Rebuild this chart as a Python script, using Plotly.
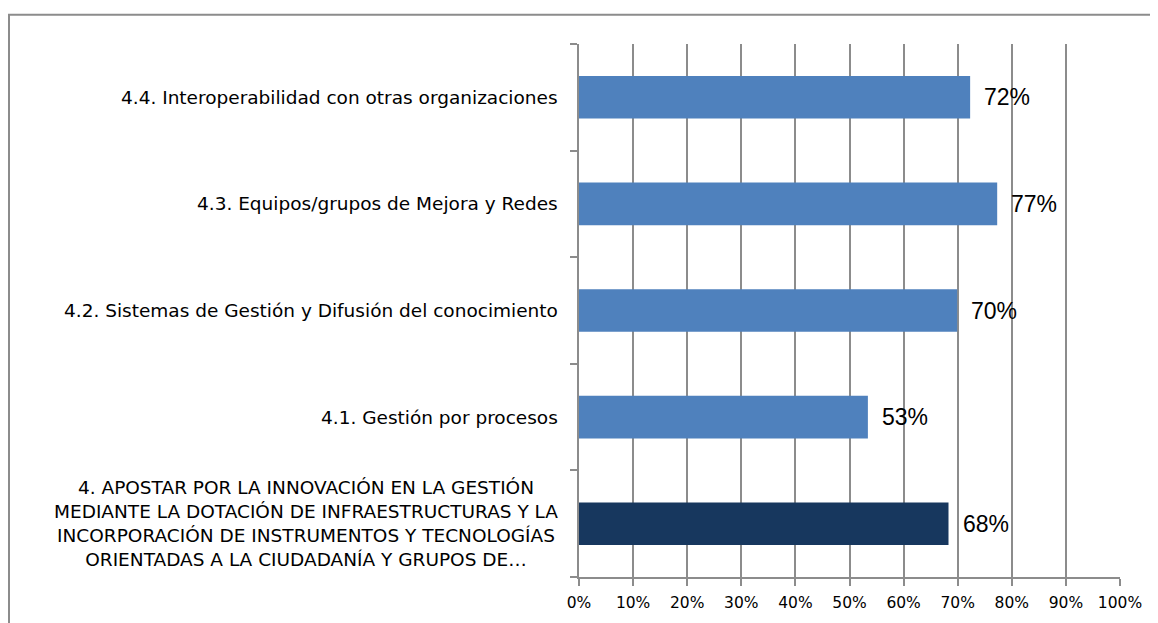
import plotly.graph_objects as go

categories = [
    "4. APOSTAR POR LA INNOVACIÓN EN LA GESTIÓN<br>MEDIANTE LA DOTACIÓN DE INFRAESTRUCTURAS Y LA<br>INCORPORACIÓN DE INSTRUMENTOS Y TECNOLOGÍAS<br>ORIENTADAS A LA CIUDADANÍA Y GRUPOS DE…",
    "4.1. Gestión por procesos",
    "4.2. Sistemas de Gestión y Difusión del conocimiento",
    "4.3. Equipos/grupos de Mejora y Redes",
    "4.4. Interoperabilidad con otras organizaciones",
]
values = [68.3, 53.4, 69.9, 77.3, 72.3]
bar_colors = ["#17375E", "#4F81BD", "#4F81BD", "#4F81BD", "#4F81BD"]
x_ticks = [0, 10, 20, 30, 40, 50, 60, 70, 80, 90, 100]
x_tick_labels = [f"{t}%" for t in x_ticks]

ypos = list(range(len(categories)))

fig = go.Figure()
fig.add_trace(go.Bar(
    x=values, y=ypos, orientation="h",
    marker=dict(color=bar_colors, line=dict(width=0)),
    width=0.4, hoverinfo="skip",
))

label_font = "DejaVu Sans, Tahoma, sans-serif"
annotations = []
for yi, cat in zip(ypos, categories):
    annotations.append(dict(
        x=0, y=yi, xref="paper", yref="y", text=cat, showarrow=False,
        xanchor="right", yanchor="middle", align="center", xshift=-19,
        font=dict(family=label_font, size=18.5, color="#000000"),
    ))
for yi, v in zip(ypos, values):
    annotations.append(dict(
        x=v, y=yi, xref="x", yref="y", text=f"{v:.0f}%", showarrow=False,
        xanchor="left", yanchor="middle", xshift=12,
        font=dict(family="Liberation Sans, Arial, sans-serif", size=23, color="#000000"),
    ))

fig.update_layout(
    width=1150, height=615,
    margin=dict(l=571, r=38, t=36, b=46),
    paper_bgcolor="#FFFFFF", plot_bgcolor="#FFFFFF",
    showlegend=False,
    annotations=annotations,
    shapes=[dict(type="rect", xref="paper", yref="paper",
                 x0=-1.0536, x1=3, y0=-3, y1=1.055,
                 line=dict(color="#8C8C8C", width=2), fillcolor="rgba(0,0,0,0)", layer="below")],
    xaxis=dict(
        range=[0, 100], tickvals=x_ticks, ticktext=x_tick_labels,
        showgrid=True, gridcolor="#8C8C8C", gridwidth=1.5,
        showline=True, linecolor="#8C8C8C", linewidth=1.5,
        ticks="outside", ticklen=7, tickcolor="#8C8C8C", tickwidth=1.5,
        ticklabelstandoff=4,
        tickfont=dict(family=label_font, size=15.5, color="#000000"),
        zeroline=False, fixedrange=True,
    ),
    yaxis=dict(
        range=[-0.5, 4.5], tickvals=[-0.5, 0.5, 1.5, 2.5, 3.5, 4.5],
        showticklabels=False, showgrid=False,
        showline=True, linecolor="#8C8C8C", linewidth=1.5,
        ticks="outside", ticklen=7, tickcolor="#8C8C8C", tickwidth=1.5,
        zeroline=False, fixedrange=True,
    ),
)

fig.write_html("out.html")
